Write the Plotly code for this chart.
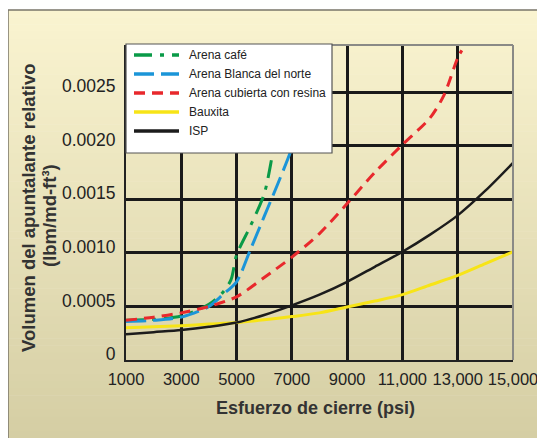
import plotly.graph_objects as go

# Esfuerzo de cierre (psi) vs volumen relativo del apuntalante
x_cafe = [1000, 2000, 3000, 4000, 4500, 4800, 5000, 5500, 6000, 6300, 6500]
y_cafe = [0.00037, 0.00038, 0.00041, 0.00052, 0.00063, 0.00075, 0.00098, 0.00125, 0.00155, 0.00192, 0.0022]

x_blanca = [1000, 2000, 3000, 4000, 4500, 5000, 5500, 6000, 6500, 7000, 7200]
y_blanca = [0.00036, 0.00037, 0.0004, 0.0005, 0.00061, 0.00073, 0.00103, 0.00134, 0.00165, 0.00198, 0.0022]

x_resina = [1000, 2000, 3000, 4000, 5000, 6000, 7000, 8000, 9000, 10000, 11000, 12000, 12500, 13000, 13150]
y_resina = [0.00037, 0.0004, 0.00044, 0.0005, 0.00059, 0.00077, 0.00096, 0.00118, 0.00146, 0.00175, 0.00201, 0.00226, 0.00247, 0.00282, 0.00289]

x_full = [1000, 2000, 3000, 4000, 5000, 6000, 7000, 8000, 9000, 10000, 11000, 12000, 13000, 14000, 15000]
y_bauxita = [0.0003, 0.00031, 0.00032, 0.000335, 0.00035, 0.000375, 0.000405, 0.00044, 0.000495, 0.00055, 0.00061, 0.0007, 0.00079, 0.0009, 0.00101]
y_isp = [0.00024, 0.00026, 0.00028, 0.00031, 0.00035, 0.00042, 0.00051, 0.00061, 0.00073, 0.00087, 0.00101, 0.00117, 0.00135, 0.00158, 0.00184]

x_ticks = [1000, 3000, 5000, 7000, 9000, 11000, 13000, 15000]
x_ticktext = ["1000", "3000", "5000", "7000", "9000", "11,000", "13,000", "15,000"]
y_ticks = [0, 0.0005, 0.001, 0.0015, 0.002, 0.0025]
y_ticktext = ["0", "0.0005", "0.0010", "0.0015", "0.0020", "0.0025"]

font = "Liberation Sans, Arial, sans-serif"

# plot area on screen: x 126..513, y 45..360 (page body adds an 8px offset)
def px(x):
    return (x - 126) / 387

def py(y):
    return (360 - y) / 315

fig = go.Figure()

series = [
    ("Arena café", x_cafe, y_cafe, "#0a9a48", "18px,8px,4px,8px", 3),
    ("Arena Blanca del norte", x_blanca, y_blanca, "#1b95d8", "20px,7px", 3),
    ("Arena cubierta con resina", x_resina, y_resina, "#e8282c", "11px,7px", 3),
    ("Bauxita", x_full, y_bauxita, "#f7e417", "solid", 3),
    ("ISP", x_full, y_isp, "#1c1c1c", "solid", 2.5),
]
for name, xs, ys, color, dash, w in series:
    fig.add_trace(go.Scatter(
        x=xs, y=ys, name=name, mode="lines", showlegend=False,
        line=dict(color=color, width=w, dash=dash, shape="spline", smoothing=0.8),
    ))

# fondo degradado del marco
shapes = []
n = 60
top_px, bot_px = 10, 438
c0 = (250, 244, 208)
c1 = (213, 206, 164)
for i in range(n):
    t = i / (n - 1)
    col = tuple(round(c0[k] + (c1[k] - c0[k]) * t) for k in range(3))
    p0 = top_px + (bot_px - top_px) * i / n
    p1 = top_px + (bot_px - top_px) * (i + 1) / n
    shapes.append(dict(
        type="rect", xref="paper", yref="paper", layer="below",
        x0=-0.31, x1=1.1, y0=py(p1 + 0.6), y1=py(p0),
        fillcolor="rgb(%d,%d,%d)" % col, line=dict(width=0),
    ))
# borde del marco
shapes.append(dict(type="rect", xref="paper", yref="paper", layer="below",
                   x0=px(8), x1=1.2, y0=-0.3, y1=py(10),
                   line=dict(color="#7a766a", width=1.5)))
# borde gris superior y derecho del área
shapes.append(dict(type="line", xref="paper", yref="paper", layer="above",
                   x0=0, x1=1, y0=1, y1=1, line=dict(color="#8a8a86", width=2)))
shapes.append(dict(type="line", xref="paper", yref="paper", layer="above",
                   x0=1, x1=1, y0=0, y1=1, line=dict(color="#8a8a86", width=2)))
# caja de la leyenda
shapes.append(dict(type="rect", xref="paper", yref="paper", layer="above",
                   x0=0, x1=px(332), y0=py(153), y1=py(44),
                   fillcolor="white", line=dict(color="#555555", width=1.2)))

annotations = []
# leyenda dibujada a mano
for i, (name, xs, ys, color, dash, w) in enumerate(series):
    yy = 55 + i * 19
    shapes.append(dict(type="line", xref="paper", yref="paper", layer="above",
                       x0=px(134), x1=px(179), y0=py(yy), y1=py(yy),
                       line=dict(color=color, width=3.5, dash=dash)))
    annotations.append(dict(xref="paper", yref="paper", x=px(187), y=py(yy),
                            xanchor="left", yanchor="middle", showarrow=False,
                            text=name, font=dict(family=font, size=12, color="#222")))

# títulos de los ejes
annotations.append(dict(xref="paper", yref="paper", x=px(29), y=py(207), textangle=-90,
                        xanchor="center", yanchor="middle", showarrow=False,
                        text="<b>Volumen del apuntalante relativo</b>",
                        font=dict(family=font, size=18.5, color="#333")))
annotations.append(dict(xref="paper", yref="paper", x=px(49), y=py(216), textangle=-90,
                        xanchor="center", yanchor="middle", showarrow=False,
                        text="<b>(lbm/md-ft³)</b>",
                        font=dict(family=font, size=18.5, color="#333")))
annotations.append(dict(xref="paper", yref="paper", x=px(315), y=py(408),
                        xanchor="center", yanchor="middle", showarrow=False,
                        text="<b>Esfuerzo de cierre (psi)</b>",
                        font=dict(family=font, size=18, color="#333")))

fig.update_layout(
    width=545, height=438,
    margin=dict(l=118, r=40, t=37, b=86),
    paper_bgcolor="white",
    plot_bgcolor="rgba(0,0,0,0)",
    shapes=shapes,
    annotations=annotations,
    showlegend=False,
)

fig.update_xaxes(
    range=[1000, 15000], tickvals=x_ticks, ticktext=x_ticktext, tickangle=0,
    showgrid=True, gridcolor="#1a1a1a", gridwidth=2.5,
    showline=True, linecolor="#222", linewidth=2, zeroline=False,
    ticks="", ticklabelstandoff=3,
    tickfont=dict(family=font, size=16.5, color="#222"),
)
fig.update_yaxes(
    range=[0, 0.00294], tickvals=y_ticks, ticktext=y_ticktext,
    showgrid=True, gridcolor="#1a1a1a", gridwidth=2.5,
    showline=True, linecolor="#222", linewidth=2, zeroline=False,
    ticks="", ticklabelstandoff=5, ticklabelshift=-6,
    tickfont=dict(family=font, size=17.5, color="#222"),
)

fig.write_html("out.html")
